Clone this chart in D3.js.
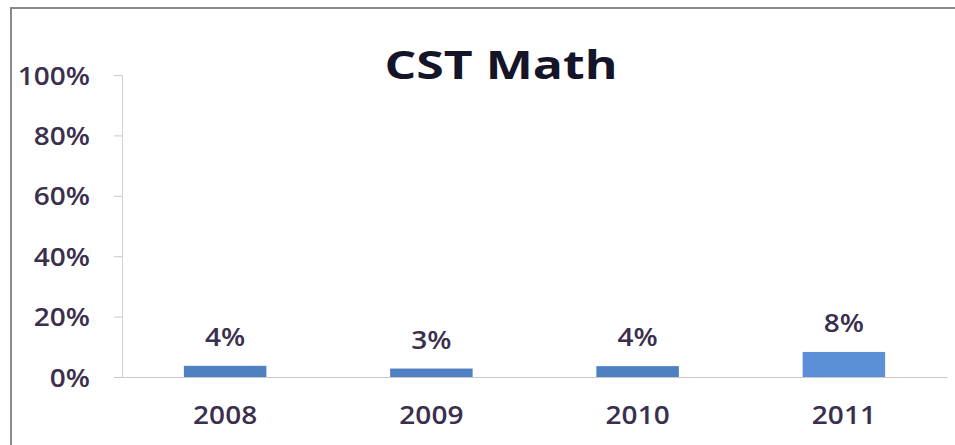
<!DOCTYPE html>
<html><head><meta charset="utf-8">
<script src="https://cdn.jsdelivr.net/npm/d3@7"></script>
<style>html,body{margin:0;padding:0;background:#fff;}svg{display:block;}</style>
</head><body>
<svg id="chart" width="955" height="445"></svg>
<script>
const categories = ["2008", "2009", "2010", "2011"];
const values = [0.037, 0.028, 0.036, 0.083];
const yTicks = [0, 0.2, 0.4, 0.6, 0.8, 1.0];
const title = "CST Math";

const svg = d3.select("#chart");
const W = 955, H = 445;
const m = {left: 122, right: 8, top: 75, bottom: 68};
const font = "'Open Sans', Lato, sans-serif";
const textColor = "#3b2f4e";
const stretch = 1.12;

function widen(sel, f) {
  sel.each(function() {
    const w = this.getComputedTextLength();
    d3.select(this).attr("textLength", w * f).attr("lengthAdjust", "spacingAndGlyphs");
  });
}

svg.append("rect").attr("x", 0).attr("y", 0).attr("width", W).attr("height", H).attr("fill", "#fff");
// frame
svg.append("path").attr("d", `M11,${H} L11,8 L${W},8`).attr("fill", "none").attr("stroke", "#8a8a8a").attr("stroke-width", 2);

const x = d3.scaleBand().domain(categories).range([m.left, W - m.right]).paddingInner(0.6).paddingOuter(0.3);
const y = d3.scaleLinear().domain([0, 1]).range([H - m.bottom, m.top]);

// y axis
const yAxis = svg.append("g").attr("transform", `translate(${m.left},0)`)
  .call(d3.axisLeft(y).tickValues(yTicks).tickFormat(d3.format(".0%")).tickSize(8).tickPadding(24));
yAxis.select(".domain").attr("stroke", "#d0d0d0");
yAxis.selectAll(".tick line").attr("stroke", "#c8c8c8");
yAxis.selectAll("text").attr("font-family", font).attr("font-size", 25).attr("fill", textColor).attr("font-weight", 600)
  .attr("dy", "0.36em").call(widen, stretch);

// x axis
const xAxis = svg.append("g").attr("transform", `translate(0,${y(0)})`)
  .call(d3.axisBottom(x).tickSize(0).tickPadding(29));
xAxis.select(".domain").attr("stroke", "#c8c8c8");
xAxis.selectAll("text").attr("font-family", font).attr("font-size", 25).attr("fill", textColor).attr("font-weight", 600)
  .call(widen, stretch);

// bars
svg.append("g").selectAll("rect").data(values).join("rect")
  .attr("x", (d, i) => x(categories[i]))
  .attr("width", x.bandwidth())
  .attr("y", d => y(d))
  .attr("height", d => y(0) - y(d))
  .attr("fill", (d, i) => i === 3 ? "#5b8fd6" : "#4f81c2");

// labels
svg.append("g").selectAll("text").data(values).join("text")
  .attr("x", (d, i) => x(categories[i]) + x.bandwidth() / 2)
  .attr("y", d => y(d) - 20)
  .attr("text-anchor", "middle")
  .attr("font-family", font).attr("font-size", 25).attr("font-weight", 600).attr("fill", textColor)
  .text(d => d3.format(".0%")(d))
  .call(widen, stretch);

// title
svg.append("text").attr("x", 501).attr("y", 79).attr("text-anchor", "middle")
  .attr("font-family", font).attr("font-size", 39).attr("font-weight", 700).attr("fill", "#15152a")
  .text(title).attr("textLength", 233).attr("lengthAdjust", "spacingAndGlyphs");
</script>
</body></html>
